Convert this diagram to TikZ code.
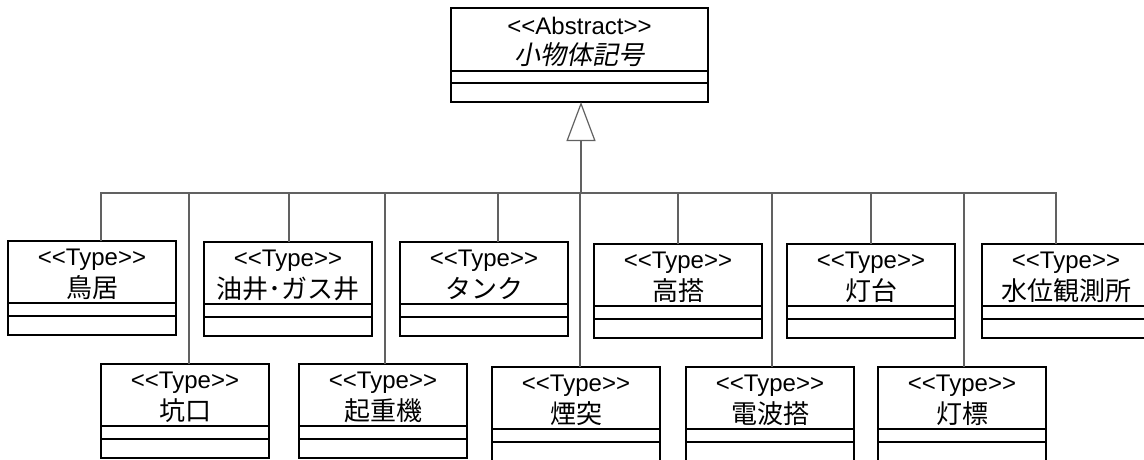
\documentclass[tikz,border=0pt]{standalone}
\usepackage{fontspec}
\usetikzlibrary{arrows.meta,calc}
\newfontfamily\lat{Liberation Sans}
\newfontfamily\jp{Noto Sans CJK JP}
\newfontfamily\jpit{Noto Sans CJK JP}[FakeSlant=0.2]
\tikzset{
  cls/.style={draw=black, line width=1.2pt, fill=white, rectangle, anchor=north west,
    minimum width=168pt, minimum height=94pt, inner sep=0pt, outer sep=0pt},
  sep/.style={draw=black, line width=1.1pt},
  conn/.style={draw=black!62, line width=1.2pt},
  stereo/.style={anchor=base, inner sep=0pt, font=\lat\fontsize{24}{28}\selectfont},
  jname/.style={anchor=base, inner sep=0pt, font=\jp\fontsize{26}{30}\selectfont},
  jitname/.style={anchor=base, inner sep=0pt, font=\jpit\fontsize{26}{30}\selectfont},
  gen/.style={conn, -{Triangle[open, length=39pt, width=29pt, fill=white]}},
}
\newcommand\typebox[5]{%
  \node[cls] (#1) at (#2,#3) {};
  \draw[sep] ([yshift=-62pt]#1.north west) -- ([yshift=-62pt]#1.north east);
  \draw[sep] ([yshift=-75pt]#1.north west) -- ([yshift=-75pt]#1.north east);
  \node[stereo] (#1-st) at ([yshift=-24pt]#1.north) {<<Type>>};
  \node[jname] (#1-nm) at ([yshift=-56pt]#1.north) {#4};
  \coordinate (#1-b) at (#5,193);
  \draw[conn] (#1-b) -- (#1-b |- #1.north);
}
\begin{document}
\begin{tikzpicture}[x=1pt,y=-1pt]
\clip (0,0) rectangle (1144,460);
\fill[white] (0,0) rectangle (1144,460);
% abstract class
\node[cls, minimum width=257pt, minimum height=94pt] (top) at (451,8) {};
\draw[sep] ([yshift=-63pt]top.north west) -- ([yshift=-63pt]top.north east);
\draw[sep] ([yshift=-75pt]top.north west) -- ([yshift=-75pt]top.north east);
\node[stereo] (top-st) at ([yshift=-27pt]top.north) {<<Abstract>>};
\node[jitname] (top-nm) at ([yshift=-57pt]top.north) {小物体記号};
% bus
\coordinate (busL) at (100,193);
\coordinate (busR) at (1057,193);
\coordinate (busM) at (581,193);
\draw[conn] (busL) -- (busR);
\draw[gen] (busM) -- (busM |- top.south);
% top row
\typebox{torii}{8}{241}{鳥居}{101}
\typebox{yusei}{204}{242}{油井･ガス井}{289}
\typebox{tank}{400}{242}{タンク}{498}
\typebox{koto}{594}{244}{高搭}{678}
\typebox{todai}{787}{244}{灯台}{871}
\typebox{suii}{982}{244}{水位観測所}{1056}
% bottom row
\typebox{koko}{101}{364}{坑口}{189}
\typebox{kiju}{299}{364}{起重機}{385}
\typebox{entotsu}{492}{367}{煙突}{580}
\typebox{denpa}{686}{367}{電波搭}{772}
\typebox{tohyo}{878}{367}{灯標}{964}
\end{tikzpicture}
\end{document}
